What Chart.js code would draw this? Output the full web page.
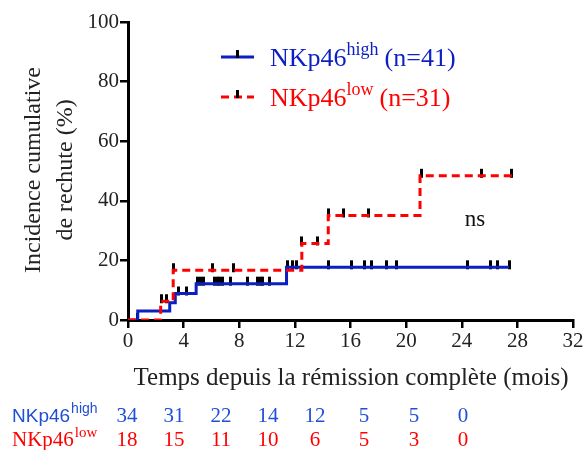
<!DOCTYPE html>
<html>
<head>
<meta charset="utf-8">
<script src="https://cdn.jsdelivr.net/npm/chart.js@4.4.1/dist/chart.umd.min.js"></script>
<style>
  html, body { margin: 0; padding: 0; background: #fff; }
  #wrap { width: 587px; height: 450px; position: relative; }
</style>
</head>
<body>
<div id="wrap"><canvas id="kmChart"></canvas></div>
<script>
// step curves (time in months, cumulative incidence in %)
const highTimes  = [0, 0.7, 3.0, 3.4, 4.9, 11.4, 27.4];
const highValues = [0, 3.0, 5.8, 8.9, 12.2, 17.7, 17.7];
const lowTimes   = [0, 2.35, 3.25, 12.5, 14.4, 21.0, 27.7];
const lowValues  = [0, 6.3, 16.7, 25.7, 35.1, 48.4, 48.4];

// censored observations (times)
const highCensored = [0.65, 3.6, 4.2, 5.0, 5.2, 5.4, 6.2, 6.4, 6.6, 6.8, 7.4, 8.6, 9.3, 9.5, 9.7, 10.2,
                      11.5, 11.8, 12.1, 14.4, 16.1, 17.0, 17.5, 18.6, 19.3, 24.4, 26.1, 26.6, 27.4];
const lowCensored  = [2.4, 2.8, 3.3, 6.1, 7.6, 12.5, 13.6, 14.45, 15.5, 17.3, 21.1, 25.4, 27.6];

// axis ticks
const xTicks = [0, 4, 8, 12, 16, 20, 24, 28, 32];
const yTicks = [0, 20, 40, 60, 80, 100];

// numbers at risk
const riskHigh = [34, 31, 22, 14, 12, 5, 5, 0];
const riskLow  = [18, 15, 11, 10, 6, 5, 3, 0];
const riskX    = [127, 174, 221, 268, 315, 364, 414, 463];

const BLUE = '#0b1fc2';
const RED = '#ff0000';
const SERIF = '"Liberation Serif", "DejaVu Serif", serif';

function levelAt(times, values, t) {
    let v = values[0];
    for (let i = 0; i < times.length; i++) {
        if (times[i] <= t + 1e-9) v = values[i];
    }
    return v;
}

// censor mark: short vertical bar sitting mostly above the line
const censorMark = document.createElement('canvas');
censorMark.width = 3;
censorMark.height = 16;
(function() {
    const c = censorMark.getContext('2d');
    c.fillStyle = '#000';
    c.fillRect(0, 1, 3, 9);
})();

const pts = (ts, vs) => ts.map((t, i) => ({x: t, y: vs[i]}));
const censorPts = (cs, ts, vs) => cs.map(t => ({x: t, y: levelAt(ts, vs, t)}));

const overlay = {
    id: 'overlay',
    afterDraw(chart) {
        const ctx = chart.ctx;
        ctx.save();

        // y title
        ctx.fillStyle = '#222';
        ctx.font = '24px ' + SERIF;
        ctx.textAlign = 'center';
        ctx.textBaseline = 'middle';
        ctx.save();
        ctx.translate(34, 170);
        ctx.rotate(-Math.PI / 2);
        ctx.fillText('Incidence cumulative', 0, 0);
        ctx.restore();
        ctx.save();
        ctx.translate(66, 170);
        ctx.rotate(-Math.PI / 2);
        ctx.fillText('de rechute (%)', 0, 0);
        ctx.restore();

        // x title
        ctx.font = '25px ' + SERIF;
        ctx.fillText('Temps depuis la rémission complète (mois)', 351, 378);

        // ns
        ctx.font = '23px ' + SERIF;
        ctx.fillStyle = '#111';
        ctx.fillText('ns', 475, 220);

        // legend
        function legendRow(y, color, dashed, base, sup, tail) {
            ctx.strokeStyle = color;
            ctx.lineWidth = 3;
            ctx.setLineDash(dashed ? [8, 5] : []);
            ctx.beginPath();
            ctx.moveTo(221, y);
            ctx.lineTo(254, y);
            ctx.stroke();
            ctx.setLineDash([]);
            ctx.fillStyle = '#000';
            ctx.fillRect(236, y - 7, 3, 8);
            ctx.fillStyle = color;
            ctx.textAlign = 'left';
            ctx.textBaseline = 'alphabetic';
            ctx.font = '26px ' + SERIF;
            let x = 270;
            ctx.fillText(base, x, y + 9);
            x += ctx.measureText(base).width;
            ctx.font = '18px ' + SERIF;
            ctx.fillText(sup, x, y - 2);
            x += ctx.measureText(sup).width + 6;
            ctx.font = '26px ' + SERIF;
            ctx.fillText(tail, x, y + 9);
        }
        legendRow(57, BLUE, false, 'NKp46', 'high', '(n=41)');
        legendRow(97, RED, true, 'NKp46', 'low', '(n=31)');

        // numbers at risk
        ctx.textBaseline = 'alphabetic';
        ctx.textAlign = 'left';
        ctx.fillStyle = '#1f4fd6';
        ctx.font = '19px "Liberation Sans", "DejaVu Sans", sans-serif';
        ctx.fillText('NKp46', 12, 422);
        let w = ctx.measureText('NKp46').width;
        ctx.font = '14px "Liberation Sans", "DejaVu Sans", sans-serif';
        ctx.fillText('high', 13 + w, 413);
        ctx.fillStyle = RED;
        ctx.font = '21px ' + SERIF;
        ctx.fillText('NKp46', 12, 446);
        w = ctx.measureText('NKp46').width;
        ctx.font = '15px ' + SERIF;
        ctx.fillText('low', 13 + w, 437);

        ctx.textAlign = 'center';
        ctx.font = '21px ' + SERIF;
        riskHigh.forEach((n, i) => {
            ctx.fillStyle = '#1f4fd6';
            ctx.fillText(String(n), riskX[i], 422);
        });
        riskLow.forEach((n, i) => {
            ctx.fillStyle = RED;
            ctx.fillText(String(n), riskX[i], 446);
        });
        ctx.restore();
    }
};

const ctx = document.getElementById('kmChart').getContext('2d');
const kmChart = new Chart(ctx, {
    type: 'line',
    data: {
        datasets: [
            {
                label: 'low',
                data: pts(lowTimes, lowValues),
                borderColor: RED,
                borderWidth: 3,
                borderDash: [8, 5],
                stepped: 'before',
                pointRadius: 0,
                fill: false
            },
            {
                label: 'high',
                data: pts(highTimes, highValues),
                borderColor: BLUE,
                borderWidth: 3,
                stepped: 'before',
                pointRadius: 0,
                fill: false
            },
            {
                label: 'high censored',
                data: censorPts(highCensored, highTimes, highValues),
                showLine: false,
                pointStyle: censorMark,
                pointRadius: 5
            },
            {
                label: 'low censored',
                data: censorPts(lowCensored, lowTimes, lowValues),
                showLine: false,
                pointStyle: censorMark,
                pointRadius: 5
            }
        ]
    },
    options: {
        responsive: true,
        maintainAspectRatio: false,
        animation: false,
        layout: { padding: { left: 68, right: 14, top: 22, bottom: 90 } },
        plugins: {
            legend: { display: false },
            tooltip: { enabled: false }
        },
        scales: {
            x: {
                type: 'linear',
                min: 0,
                max: 32,
                afterBuildTicks(scale) { scale.ticks = xTicks.map(v => ({value: v})); },
                afterFit(scale) { scale.height = 40; },
                ticks: {
                    color: '#222',
                    font: { family: SERIF, size: 21 },
                    padding: 1,
                    maxRotation: 0
                },
                grid: {
                    drawOnChartArea: false,
                    drawTicks: true,
                    tickLength: 8,
                    color: '#000',
                    lineWidth: 2.5
                },
                border: { color: '#000', width: 3 }
            },
            y: {
                min: 0,
                max: 100,
                afterBuildTicks(scale) { scale.ticks = yTicks.map(v => ({value: v})); },
                afterFit(scale) { scale.width = 60; },
                ticks: {
                    color: '#222',
                    font: { family: SERIF, size: 21 },
                    padding: 1
                },
                grid: {
                    drawOnChartArea: false,
                    drawTicks: true,
                    tickLength: 8,
                    color: '#000',
                    lineWidth: 2.5
                },
                border: { color: '#000', width: 3 }
            }
        }
    },
    plugins: [overlay]
});
</script>
</body>
</html>
